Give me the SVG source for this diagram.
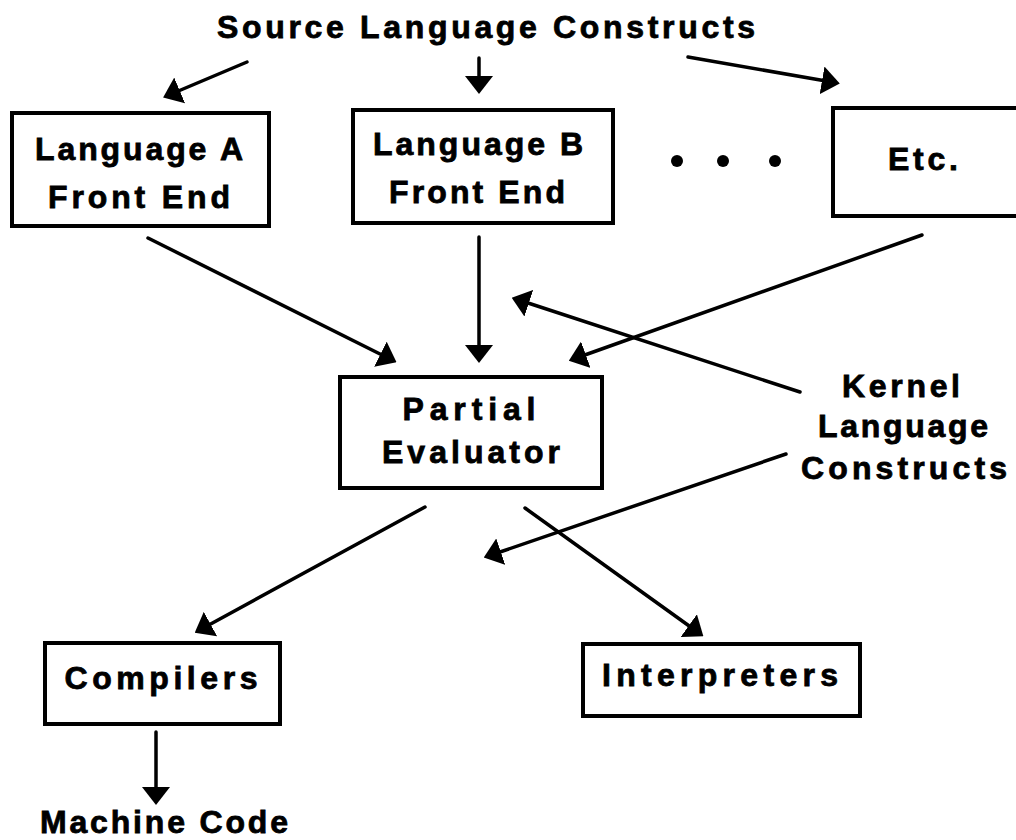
<svg xmlns="http://www.w3.org/2000/svg" width="1016" height="840" viewBox="0 0 1016 840">
<defs>
<marker id="ah" viewBox="0 0 18 28" refX="4" refY="14" markerWidth="18" markerHeight="28" markerUnits="userSpaceOnUse" orient="auto">
<path d="M0,0 L18,14 L0,28 z" fill="#000"/>
</marker>
<style>
.t{font-family:"Liberation Sans",Arial,sans-serif;font-weight:bold;font-size:32px;fill:#000;stroke:#000;stroke-width:0.8;text-anchor:middle}
.box{fill:#fff;stroke:#000;stroke-width:4}
.c{stroke:#000;stroke-width:3.5;fill:none;stroke-linecap:round;marker-end:url(#ah)}
</style>
</defs>
<rect width="1016" height="840" fill="#fff"/>
<g id="title"><text class="t" x="486" y="38" textLength="538" lengthAdjust="spacing">Source Language Constructs</text></g>
<g id="langA"><rect class="box" x="12" y="113" width="257" height="113"/>
<text class="t" x="139" y="160" textLength="208" lengthAdjust="spacing">Language A</text>
<text class="t" x="139" y="208" textLength="182" lengthAdjust="spacing">Front End</text></g>
<g id="langB"><rect class="box" x="353" y="110" width="260" height="113"/>
<text class="t" x="478" y="155" textLength="210" lengthAdjust="spacing">Language B</text>
<text class="t" x="477" y="203" textLength="176" lengthAdjust="spacing">Front End</text></g>
<g id="dots"><circle cx="677" cy="161" r="6"/><circle cx="723" cy="161" r="6"/><circle cx="775" cy="161" r="6"/></g>
<g id="etc"><rect class="box" x="833" y="108" width="195" height="108"/>
<text class="t" x="923" y="170" textLength="70" lengthAdjust="spacing">Etc.</text></g>
<g id="pe"><rect class="box" x="340" y="377" width="262" height="111"/>
<text class="t" x="469" y="420" textLength="133" lengthAdjust="spacing">Partial</text>
<text class="t" x="471" y="463" textLength="178" lengthAdjust="spacing">Evaluator</text></g>
<g id="kernel">
<text class="t" x="901" y="397" textLength="118" lengthAdjust="spacing">Kernel</text>
<text class="t" x="903" y="437" textLength="170" lengthAdjust="spacing">Language</text>
<text class="t" x="904" y="479" textLength="206" lengthAdjust="spacing">Constructs</text></g>
<g id="compilers"><rect class="box" x="45" y="643" width="235" height="81"/>
<text class="t" x="161" y="689" textLength="193" lengthAdjust="spacing">Compilers</text></g>
<g id="interpreters"><rect class="box" x="583" y="644" width="277" height="72"/>
<text class="t" x="720" y="686" textLength="236" lengthAdjust="spacing">Interpreters</text></g>
<g id="machine"><text class="t" x="164" y="833" textLength="248" lengthAdjust="spacing">Machine Code</text></g>
<g id="connectors">
<line class="c" x1="247" y1="62" x2="176" y2="92"/>
<line class="c" x1="479" y1="58" x2="479" y2="80"/>
<line class="c" x1="688" y1="57" x2="826" y2="81"/>
<line class="c" x1="148" y1="238" x2="384" y2="356"/>
<line class="c" x1="479" y1="237" x2="479" y2="349"/>
<line class="c" x1="922" y1="235" x2="582" y2="356"/>
<line class="c" x1="800" y1="392" x2="525" y2="302"/>
<line class="c" x1="786" y1="454" x2="497" y2="553"/>
<line class="c" x1="425" y1="507" x2="207" y2="626"/>
<line class="c" x1="525" y1="508" x2="692" y2="628"/>
<line class="c" x1="156" y1="732" x2="156" y2="791"/>
</g>
</svg>
